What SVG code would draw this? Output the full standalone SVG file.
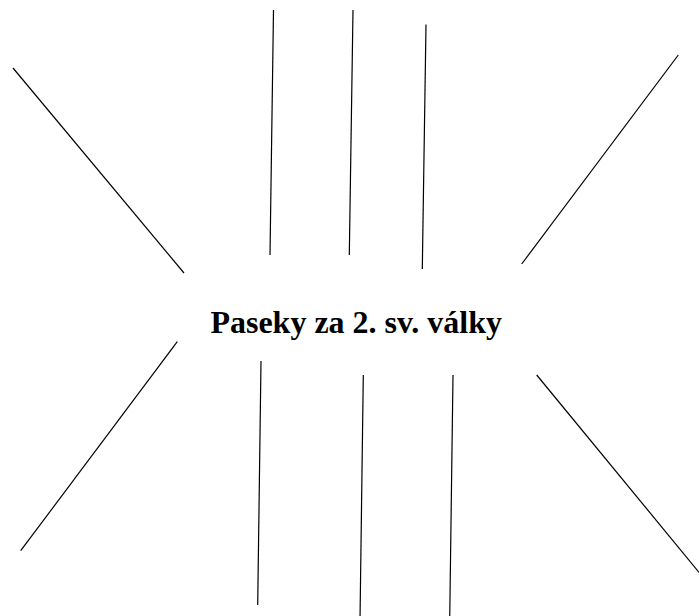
<svg xmlns="http://www.w3.org/2000/svg" width="699" height="616" viewBox="0 0 699 616">
<style>
.c line{stroke:#000;stroke-width:1.2;fill:none}
.t{font-family:"Liberation Serif","Times New Roman",serif;font-weight:bold;font-size:32px;fill:#000}
</style>
<rect width="699" height="616" fill="#fff"/>
<g id="connectors" class="c">
<line x1="13" y1="68" x2="184" y2="273"/>
<line x1="273.5" y1="10" x2="270" y2="255"/>
<line x1="353" y1="10" x2="349.3" y2="255"/>
<line x1="426" y1="24.5" x2="422.3" y2="269"/>
<line x1="678.3" y1="55" x2="521.7" y2="264"/>
<line x1="177.3" y1="341.7" x2="20.7" y2="550.7"/>
<line x1="261" y1="361" x2="257.7" y2="605"/>
<line x1="363.3" y1="375" x2="360" y2="620"/>
<line x1="453" y1="375" x2="449.7" y2="620"/>
<line x1="536.7" y1="375" x2="702" y2="576"/>
</g>
<g id="center">
<text class="t" x="356.2" y="333" text-anchor="middle">Paseky za 2. sv. války</text>
</g>
</svg>
